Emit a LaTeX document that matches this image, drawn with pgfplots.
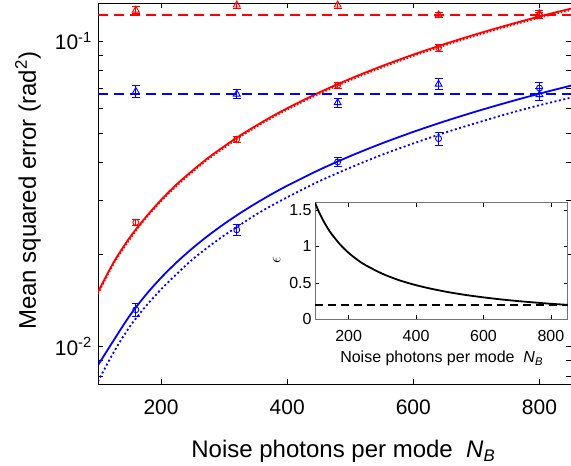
\documentclass[border=0pt]{standalone}
\usepackage{pgfplots}
\pgfplotsset{compat=1.18}
\usepackage{fontspec}
\setmainfont{Liberation Sans}

\newcommand{\tickfont}{\fontsize{21bp}{24bp}\selectfont}
\newcommand{\labfont}{\fontsize{24bp}{28bp}\selectfont}
\newcommand{\itickfont}{\fontsize{16bp}{19bp}\selectfont}

\begin{document}
\begin{tikzpicture}
\useasboundingbox (0,0) rectangle (571bp,466bp);
\begin{axis}[
  at={(98bp,82bp)}, anchor=south west,
  width=473bp, height=381bp, scale only axis,
  ymode=log,
  xmin=100, xmax=850, ymin=0.00755, ymax=0.133,
  xtick={200,400,600,800}, xticklabels={200,400,600,800},
  ytick={0.01,0.1}, yticklabels={10\textsuperscript{-2},10\textsuperscript{-1}},
  minor ytick={0.008,0.009,0.02,0.03,0.04,0.05,0.06,0.07,0.08,0.09},
  tick align=inside, major tick length=5bp, minor tick length=5bp,
  every tick/.style={black, line width=0.6bp},
  axis line style={black, line width=0.8bp},
  xticklabel style={font=\tickfont, anchor=base, yshift=-30.6bp},
  yticklabel style={font=\tickfont, anchor=east, inner sep=0pt, xshift=-6bp},
  xlabel={Noise photons per mode\ \ \textit{N}\textsubscript{\textit{B}}},
  xlabel style={font=\labfont, at={(axis description cs:0.19,0)}, anchor=base west, yshift=-73.6bp},
  ylabel={Mean squared error (rad\textsuperscript{2})},
  ylabel style={font=\labfont, at={(axis description cs:-0.148,0.507)}, anchor=center},
  clip=true,
]
% fits
\addplot[red, line width=1.8bp, dash pattern=on 1.5bp off 2bp, smooth] coordinates {
  (100,0.0149) (125,0.0187) (150,0.0224) (175,0.0262) (200,0.0299) (225,0.0336)
  (250,0.0373) (275,0.0411) (300,0.0447) (325,0.0485) (350,0.0522) (375,0.0559)
  (400,0.0596) (450,0.0670) (500,0.0744) (550,0.0818) (600,0.0893) (650,0.0967)
  (700,0.1041) (750,0.1116) (800,0.1190) (850,0.1262)};
\addplot[red, line width=1.8bp, smooth] coordinates {
  (100,0.0151) (125,0.0189) (150,0.0227) (175,0.0264) (200,0.0302) (225,0.0340)
  (250,0.0377) (275,0.0415) (300,0.0452) (325,0.0490) (350,0.0527) (375,0.0565)
  (400,0.0602) (450,0.0677) (500,0.0752) (550,0.0827) (600,0.0902) (650,0.0977)
  (700,0.1052) (750,0.1127) (800,0.1202) (850,0.1275)};
\addplot[blue, line width=1.8bp, smooth] coordinates {
  (100,0.0087) (125,0.0105) (150,0.0126) (175,0.0147) (200,0.0168) (225,0.0189)
  (250,0.0210) (275,0.0231) (300,0.0252) (325,0.0273) (350,0.0294) (375,0.0315)
  (400,0.0336) (450,0.0378) (500,0.0420) (550,0.0462) (600,0.0504) (650,0.0546)
  (700,0.0588) (750,0.0630) (800,0.0672) (850,0.0714)};
\addplot[blue, line width=1.8bp, dash pattern=on 2bp off 2.5bp, smooth] coordinates {
  (100,0.0077) (125,0.0096) (150,0.0116) (175,0.0135) (200,0.0154) (225,0.0173)
  (250,0.0193) (275,0.0212) (300,0.0231) (325,0.0250) (350,0.0270) (375,0.0289)
  (400,0.0308) (450,0.0347) (500,0.0385) (550,0.0424) (600,0.0462) (650,0.0501)
  (700,0.0539) (750,0.0578) (800,0.0616) (850,0.0652)};
% constant levels
\addplot[red, line width=2bp, dash pattern=on 10bp off 6bp] coordinates {(100,0.1216) (850,0.1216)};
\addplot[blue, line width=2bp, dash pattern=on 10bp off 6bp] coordinates {(100,0.067) (850,0.067)};
% data
\addplot[red, only marks, mark=triangle, mark size=4bp, mark options={line width=0.9bp},
  error bars/.cd, y dir=both, y explicit, error bar style={line width=0.9bp},
  error mark options={rotate=90, mark size=4bp, line width=0.9bp}] coordinates {
  (160,0.126) +- (0,0.0035) (320,0.131) +- (0,0.003) (480,0.131) +- (0,0.0035)
  (640,0.1216) +- (0,0.0027) (800,0.123) +- (0,0.003)};
\addplot[red, only marks, mark=o, mark size=3bp, mark options={line width=0.9bp},
  error bars/.cd, y dir=both, y explicit, error bar style={line width=0.9bp},
  error mark options={rotate=90, mark size=4bp, line width=0.9bp}] coordinates {
  (160,0.0255) +- (0,0.0006) (320,0.0477) +- (0,0.0011) (480,0.0716) +- (0,0.0015)
  (640,0.095) +- (0,0.0026) (800,0.121) +- (0,0.003)};
\addplot[blue, only marks, mark=triangle, mark size=4bp, mark options={line width=0.9bp},
  error bars/.cd, y dir=both, y explicit, error bar style={line width=0.9bp},
  error mark options={rotate=90, mark size=4bp, line width=0.9bp}] coordinates {
  (160,0.0683) +- (0,0.0031) (320,0.067) +- (0,0.0024) (480,0.0628) +- (0,0.0021)
  (640,0.0722) +- (0,0.0029) (800,0.0667) +- (0,0.003)};
\addplot[blue, only marks, mark=o, mark size=3bp, mark options={line width=0.9bp},
  error bars/.cd, y dir=both, y explicit, error bar style={line width=0.9bp},
  error mark options={rotate=90, mark size=4bp, line width=0.9bp}] coordinates {
  (160,0.0132) +- (0,0.0006) (320,0.0241) +- (0,0.001) (480,0.0402) +- (0,0.0014)
  (640,0.0479) +- (0,0.0024) (800,0.0701) +- (0,0.003)};
\end{axis}

\begin{axis}[
  at={(315bp,146.7bp)}, anchor=south west,
  width=252.7bp, height=116.6bp, scale only axis,
  xmin=100, xmax=850, ymin=0, ymax=1.6,
  xtick={200,400,600,800}, xticklabels={200,400,600,800},
  ytick={0,0.5,1,1.5}, yticklabels={0,0.5,1,1.5},
  tick align=inside, major tick length=4bp,
  every tick/.style={black, line width=0.6bp},
  axis line style={black!55, line width=0.9bp},
  axis background/.style={fill=white},
  xticklabel style={font=\itickfont, anchor=base, yshift=-22.4bp},
  yticklabel style={font=\itickfont, anchor=east, inner sep=0pt, xshift=-3.3bp},
  xlabel={Noise photons per mode\ \ \textit{N}\textsubscript{\textit{B}}},
  xlabel style={font=\itickfont, at={(axis description cs:0.086,0)}, anchor=base west, yshift=-43.4bp},
  ylabel={$\epsilon$},
  ylabel style={font=\itickfont, at={(axis description cs:-0.152,0.509)}, anchor=center},
]
\addplot[black, line width=1.8bp, smooth] coordinates {
  (100,1.600) (110,1.490) (120,1.394) (130,1.309) (140,1.233) (150,1.166) (175,1.024)
  (200,0.911) (225,0.819) (250,0.743) (300,0.625) (350,0.536) (400,0.468) (450,0.414)
  (500,0.369) (550,0.332) (600,0.301) (650,0.274) (700,0.251) (750,0.231) (800,0.213)
  (850,0.198)};
\addplot[black, line width=1.8bp, dash pattern=on 8bp off 5bp] coordinates {(100,0.2) (850,0.2)};
\node[font=\itickfont, anchor=base west, inner sep=0pt] at (rel axis cs:0,1) [yshift=4.7bp] {×10\textsuperscript{-3}};
\end{axis}
\end{tikzpicture}
\end{document}
